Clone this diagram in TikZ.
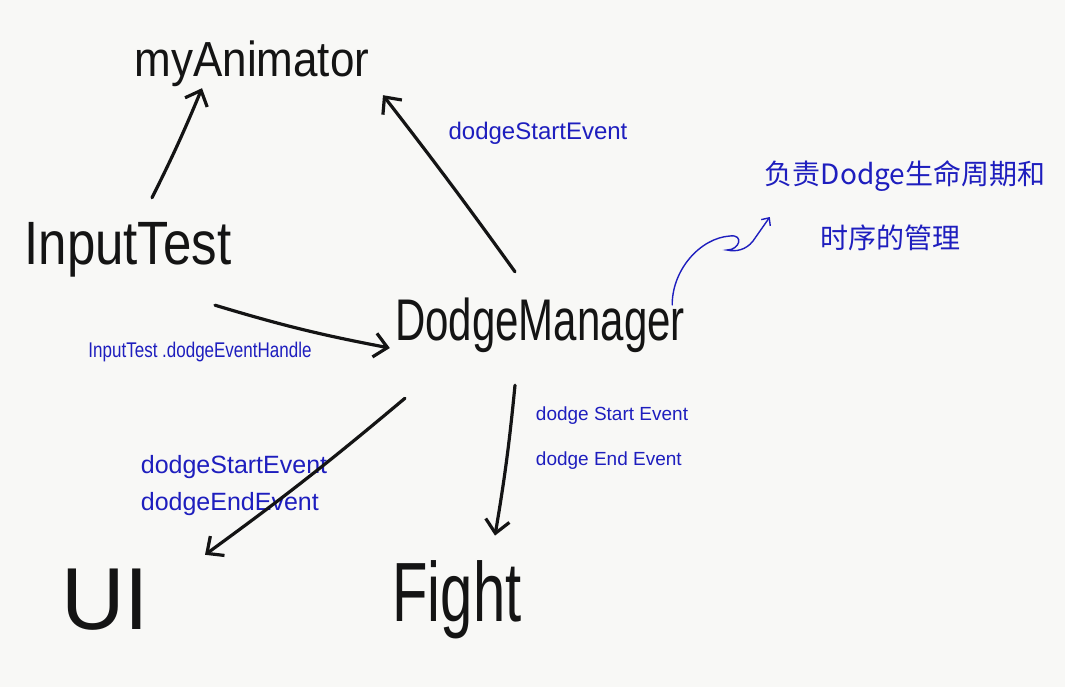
\documentclass[tikz,border=0pt]{standalone}
\usepackage{fontspec}
\usepackage{graphicx}
\setmainfont{Liberation Sans}
\newfontfamily\cjk{Noto Sans CJK SC}
\usetikzlibrary{arrows.meta}
\definecolor{paper}{RGB}{248,248,246}
\definecolor{ink}{RGB}{20,20,20}
\definecolor{pen}{RGB}{30,30,190}
\begin{document}
\begin{tikzpicture}[x=1pt,y=-1pt,
  bigtext/.style={inner sep=0pt, text=ink, font=\fontsize{#1}{#1}\selectfont},
  lbl/.style={inner sep=0pt, text=pen, font=\fontsize{#1}{#1}\selectfont},
  zh/.style={inner sep=0pt, text=pen, font=\cjk\fontsize{28}{30}\selectfont},
  arr/.style={draw=ink, line width=3.2pt, line cap=round, line join=round,
    -{Straight Barb[length=13pt,width=24pt,line width=3.2pt]}},
  note/.style={draw=pen, line width=1.4pt, line cap=round,
    -{Straight Barb[length=6pt,width=11pt,line width=1.4pt]}}]
\fill[paper] (0,0) rectangle (1065,687);
\useasboundingbox (0,0) rectangle (1065,687);

% main nodes
\node[bigtext=44, minimum width=240, minimum height=56] (myAnimator) at (252,64) {\scalebox{1}[1.12]{myAnimator}};
\node[bigtext=51, minimum width=220, minimum height=56] (InputTest) at (128,250) {\scalebox{1}[1.2]{InputTest}};
\node[bigtext=42, minimum width=296, minimum height=60] (DodgeManager) at (540,325) {\scalebox{1}[1.4]{DodgeManager}};
\node[bigtext=88, minimum width=90, minimum height=70] (UI) at (105,600) {UI};
\node[bigtext=58, minimum width=130, minimum height=70] (Fight) at (457,600) {\scalebox{1}[1.45]{Fight}};

% labels
\node[lbl=24] (l1) at (538,133) {dodgeStartEvent};
\node[lbl=17] (l2) at (200,352) {\scalebox{1}[1.25]{InputTest .dodgeEventHandle}};
\node[inner sep=0pt, text=pen, font=\fontsize{25}{37}\selectfont, align=left] (l3) at (234,486) {dodgeStartEvent\\dodgeEndEvent};
\node[inner sep=0pt, text=pen, font=\fontsize{19}{45}\selectfont, align=left] (l4) at (612,438) {dodge Start Event\\dodge End Event};
\node[zh] (zh1) at (905,176) {负责Dodge生命周期和};
\node[zh, minimum width=150] (zh2) at (890,238) {时序的管理};

% connectors
\draw[arr] ([shift={(24,-24)}]InputTest.north) to[bend right=2] ([shift={(-50,-4)}]myAnimator.south);
\draw[arr] ([shift={(-25,-23)}]DodgeManager.north) to[bend right=1] ([shift={(131,3)}]myAnimator.south);
\draw[arr] ([shift={(87,27)}]InputTest.south) to[bend right=3] ([shift={(-2,23)}]DodgeManager.west);
\draw[arr] ([shift={(-135,43)}]DodgeManager.south) to[bend left=2] ([shift={(100,-10)}]UI.north);
\draw[arr] ([shift={(-25,30)}]DodgeManager.south) to[bend left=2] ([shift={(38,-25)}]Fight.north);

% annotation
\draw[note] ([shift={(-16,-20)}]DodgeManager.east)
  .. controls (672,270) and (700,238) .. (730,236)
  .. controls (744,234) and (740,250) .. (727,250)
  .. controls (736,252) and (746,250) .. (753,241)
  -- ([shift={(-45,-21)}]zh2.west);
\end{tikzpicture}
\end{document}
